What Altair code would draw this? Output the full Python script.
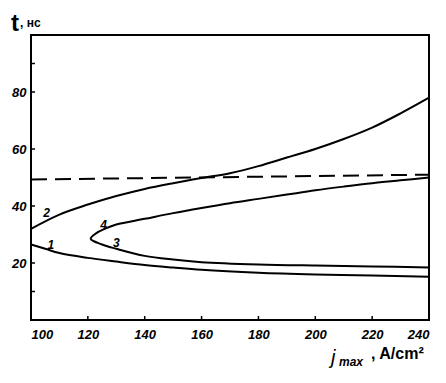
import altair as alt
import pandas as pd

c1_x = [100, 105, 110, 120, 130, 140, 150, 160, 180, 200, 220, 240]
c1_y = [26.5, 25, 23.5, 21.8, 20.5, 19.3, 18.4, 17.6, 16.6, 16.0, 15.6, 15.2]
c2_x = [100, 110, 120, 130, 140, 150, 160, 170, 180, 190, 200, 210, 220, 230, 240]
c2_y = [32, 37, 40.5, 43.5, 46, 48, 49.8, 51.5, 54, 57, 60, 63.5, 67.5, 72.5, 78]
c3_x = [121, 125, 130, 140, 150, 160, 180, 200, 220, 240]
c3_y = [28.5, 26.5, 25, 22.5, 21.2, 20.3, 19.5, 19.1, 18.8, 18.4]
c4_x = [121, 123, 126, 130, 140, 150, 160, 170, 180, 190, 200, 210, 220, 230, 240]
c4_y = [28.5, 30.5, 32, 33.5, 35.5, 37.5, 39.3, 41, 42.5, 44, 45.5, 46.8, 48, 49, 50]
dash_x = [100, 240]
dash_y = [49.3, 51.0]

lab_text = ["1", "2", "3", "4"]
lab_x = [107, 105.5, 130, 125.5]
lab_y = [26.3, 37.6, 27, 33.3]

x_ticks = [100, 120, 140, 160, 180, 200, 220, 240]
y_ticks = [20, 40, 60, 80]

rows = []
# curves 3 and 4 meet at the nose: draw them as one continuous path
nose = list(zip(c3_x[::-1], c3_y[::-1])) + list(zip(c4_x[1:], c4_y[1:]))
for name, pts in [("1", list(zip(c1_x, c1_y))), ("2", list(zip(c2_x, c2_y))), ("34", nose)]:
    for i, (a, b) in enumerate(pts):
        rows.append({"s": name, "x": a, "y": b, "o": i})
df = pd.DataFrame(rows)
dd = pd.DataFrame({"x": dash_x, "y": dash_y, "s": "d"})
lab = pd.DataFrame({"t": lab_text, "x": lab_x, "y": lab_y})

FONT = "Liberation Sans"
xs = alt.Scale(domain=[100, 240], nice=False, zero=False)
ys = alt.Scale(domain=[0, 100], nice=False, zero=False)

xax = alt.Axis(values=x_ticks, title=None, grid=False, ticks=False, domain=False,
               labelFont=FONT, labelFontSize=13, labelFontStyle="italic",
               labelFontWeight="bold", labelColor="black", labelPadding=8)
yax = alt.Axis(values=y_ticks, title=None, grid=False, ticks=False, domain=False,
               labelFont=FONT, labelFontSize=13, labelFontStyle="italic",
               labelFontWeight="bold", labelColor="black", labelPadding=5)

lines = alt.Chart(df).mark_line(color="black", strokeWidth=2, interpolate="catmull-rom").encode(
    x=alt.X("x:Q", scale=xs, axis=xax),
    y=alt.Y("y:Q", scale=ys, axis=yax),
    detail="s:N",
    order="o:Q",
)
dash = alt.Chart(dd).mark_line(color="black", strokeWidth=2, strokeDash=[16, 8]).encode(
    x=alt.X("x:Q", scale=xs), y=alt.Y("y:Q", scale=ys)
)
labels = alt.Chart(lab).mark_text(font=FONT, fontSize=12, fontWeight="bold",
                                  fontStyle="italic", color="black").encode(
    x=alt.X("x:Q", scale=xs), y=alt.Y("y:Q", scale=ys), text="t:N"
)

ytk = pd.DataFrame({"y": y_ticks + [90, 10]})
ytick_marks = alt.Chart(ytk).mark_rule(color="black", strokeWidth=1.5).encode(
    y=alt.Y("y:Q", scale=ys), x=alt.value(0), x2=alt.value(4)
)
xtk = pd.DataFrame({"x": x_ticks})
xtick_marks = alt.Chart(xtk).mark_rule(color="black", strokeWidth=1.5).encode(
    x=alt.X("x:Q", scale=xs), y=alt.value(285), y2=alt.value(281)
)

frame = alt.Chart(pd.DataFrame({"a": [0]})).mark_rect(
    fill="transparent", stroke="black", strokeWidth=2
).encode(x=alt.value(0), x2=alt.value(398), y=alt.value(0), y2=alt.value(285))

def txt(s, x, y, size, weight="bold", style="normal", align="left"):
    return alt.Chart(pd.DataFrame({"t": [s]})).mark_text(
        font=FONT, fontSize=size, fontWeight=weight, fontStyle=style,
        align=align, baseline="alphabetic", color="black"
    ).encode(x=alt.value(x), y=alt.value(y), text="t:N")

t1 = txt("t", -20, -4, 24)
t2 = txt(", нс", -11, -8, 12)
xt1 = txt("j", 300, 329, 20, style="italic", weight="normal")
xt2 = txt("max", 308, 331, 12, style="italic")
xt3 = txt(", A/cm²", 340, 324, 16)

chart = alt.layer(frame, lines, dash, labels, ytick_marks, xtick_marks, t1, t2, xt1, xt2, xt3).properties(
    width=398, height=285,
    autosize=alt.AutoSizeParams(type="none"),
    padding={"left": 23, "top": 27, "right": 9, "bottom": 55},
).configure_view(stroke=None).configure(background="white")

chart.save("out.html", embed_options={"renderer": "svg", "actions": False})
